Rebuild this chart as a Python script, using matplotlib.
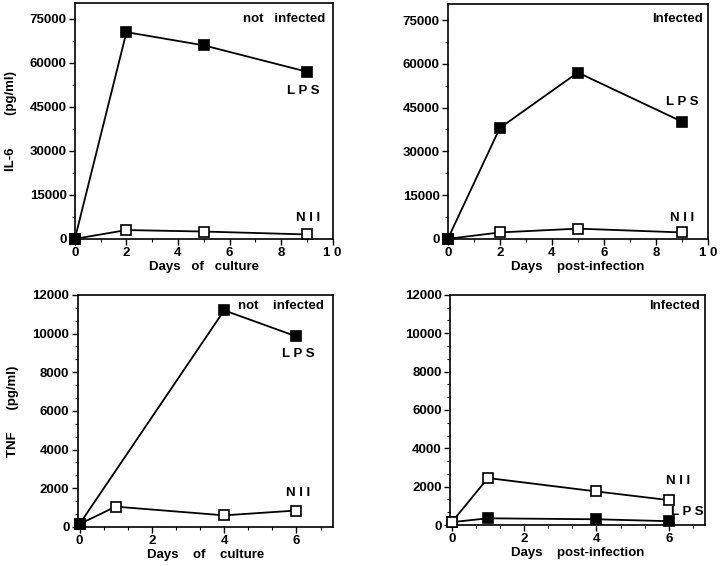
import matplotlib
matplotlib.use("Agg")
import matplotlib.pyplot as plt
from matplotlib.ticker import AutoMinorLocator

plt.rcParams['font.family'] = ['Liberation Sans', 'DejaVu Sans']
plt.rcParams['font.weight'] = 'bold'

# IL-6 data
il6_days = [0, 2, 5, 9]
il6_lps_not = [0, 70500, 66000, 57000]
il6_nii_not = [0, 3000, 2500, 1500]
il6_lps_inf = [0, 38000, 57000, 40200]
il6_nii_inf = [0, 2200, 3500, 2200]

# TNF data
tnf_lps_not_days = [0, 4, 6]
tnf_lps_not = [150, 11200, 9850]
tnf_days = [0, 1, 4, 6]
tnf_nii_not = [150, 1050, 600, 850]
tnf_lps_inf = [150, 350, 300, 200]
tnf_nii_inf = [150, 2450, 1750, 1300]

fig = plt.figure(figsize=(7.2, 5.66), dpi=100)

fs = 9.5
tfs = 9.5


def style(ax, xlim, ylim, yticks, xticks, xlabels, xminor, yminor):
    ax.set_xlim(*xlim)
    ax.set_ylim(*ylim)
    ax.set_yticks(yticks)
    ax.set_xticks(xticks)
    ax.set_xticklabels(xlabels)
    ax.xaxis.set_minor_locator(AutoMinorLocator(xminor))
    ax.yaxis.set_minor_locator(AutoMinorLocator(yminor))
    ax.tick_params(which='major', direction='out', length=4, width=1,
                   labelsize=tfs, pad=2)
    ax.tick_params(which='minor', direction='out', length=2, width=0.8)
    for s in ax.spines.values():
        s.set_linewidth(1.2)
    for lab in ax.get_xticklabels() + ax.get_yticklabels():
        lab.set_fontweight('bold')


def series(ax, x, y, filled):
    ax.plot(x, y, color='black', lw=1.3, marker='s', markersize=6.5,
            markerfacecolor='black' if filled else 'white',
            markeredgecolor='black', markeredgewidth=1.2, clip_on=False, zorder=3)


il6_ticks = [0, 15000, 30000, 45000, 60000, 75000]
tnf_ticks = [0, 2000, 4000, 6000, 8000, 10000, 12000]

# top left
ax1 = fig.add_axes([0.104, 0.578, 0.358, 0.417])
series(ax1, il6_days, il6_nii_not, False)
series(ax1, il6_days, il6_lps_not, True)
style(ax1, (0, 10), (0, 80500), il6_ticks, [0, 2, 4, 6, 8, 10],
      ['0', '2', '4', '6', '8', '1 0'], 2, 2)
ax1.set_xlabel('Days   of   culture', fontsize=fs, fontweight='bold', labelpad=1)
ax1.set_ylabel('IL-6         (pg/ml)', fontsize=fs, fontweight='bold', labelpad=9)
ax1.text(9.7, 75000, 'not   infected', ha='right', va='center', fontsize=fs)
ax1.text(8.86, 50500, 'L P S', ha='center', va='center', fontsize=fs)
ax1.text(9.03, 7160, 'N I I', ha='center', va='center', fontsize=fs)

# top right
ax2 = fig.add_axes([0.622, 0.578, 0.361, 0.415])
series(ax2, il6_days, il6_nii_inf, False)
series(ax2, il6_days, il6_lps_inf, True)
style(ax2, (0, 10), (0, 80500), il6_ticks, [0, 2, 4, 6, 8, 10],
      ['0', '2', '4', '6', '8', '1 0'], 2, 2)
ax2.set_xlabel('Days    post-infection', fontsize=fs, fontweight='bold', labelpad=1)
ax2.text(9.82, 75300, 'Infected', ha='right', va='center', fontsize=fs)
ax2.text(9.0, 47000, 'L P S', ha='center', va='center', fontsize=fs)
ax2.text(9.0, 7200, 'N I I', ha='center', va='center', fontsize=fs)

# bottom left
ax3 = fig.add_axes([0.108, 0.069, 0.354, 0.41])
series(ax3, tnf_days, tnf_nii_not, False)
series(ax3, tnf_lps_not_days, tnf_lps_not, True)
style(ax3, (-0.05, 7), (0, 12000), tnf_ticks, [0, 2, 4, 6],
      ['0', '2', '4', '6'], 3, 3)
ax3.set_xlabel('Days    of    culture', fontsize=fs, fontweight='bold', labelpad=1)
ax3.set_ylabel('TNF      (pg/ml)', fontsize=fs, fontweight='bold', labelpad=10)
ax3.text(6.77, 11430, 'not    infected', ha='right', va='center', fontsize=fs)
ax3.text(6.05, 8950, 'L P S', ha='center', va='center', fontsize=fs)
ax3.text(6.05, 1760, 'N I I', ha='center', va='center', fontsize=fs)

# bottom right
ax4 = fig.add_axes([0.625, 0.0724, 0.354, 0.4066])
series(ax4, tnf_days, tnf_lps_inf, True)
series(ax4, tnf_days, tnf_nii_inf, False)
style(ax4, (-0.05, 7), (0, 12000), tnf_ticks, [0, 2, 4, 6],
      ['0', '2', '4', '6'], 3, 3)
ax4.set_xlabel('Days    post-infection', fontsize=fs, fontweight='bold', labelpad=1)
ax4.text(6.85, 11400, 'Infected', ha='right', va='center', fontsize=fs)
ax4.text(6.25, 2300, 'N I I', ha='center', va='center', fontsize=fs)
ax4.text(6.5, 680, 'L P S', ha='center', va='center', fontsize=fs)

fig.savefig('out.png', dpi=100)
